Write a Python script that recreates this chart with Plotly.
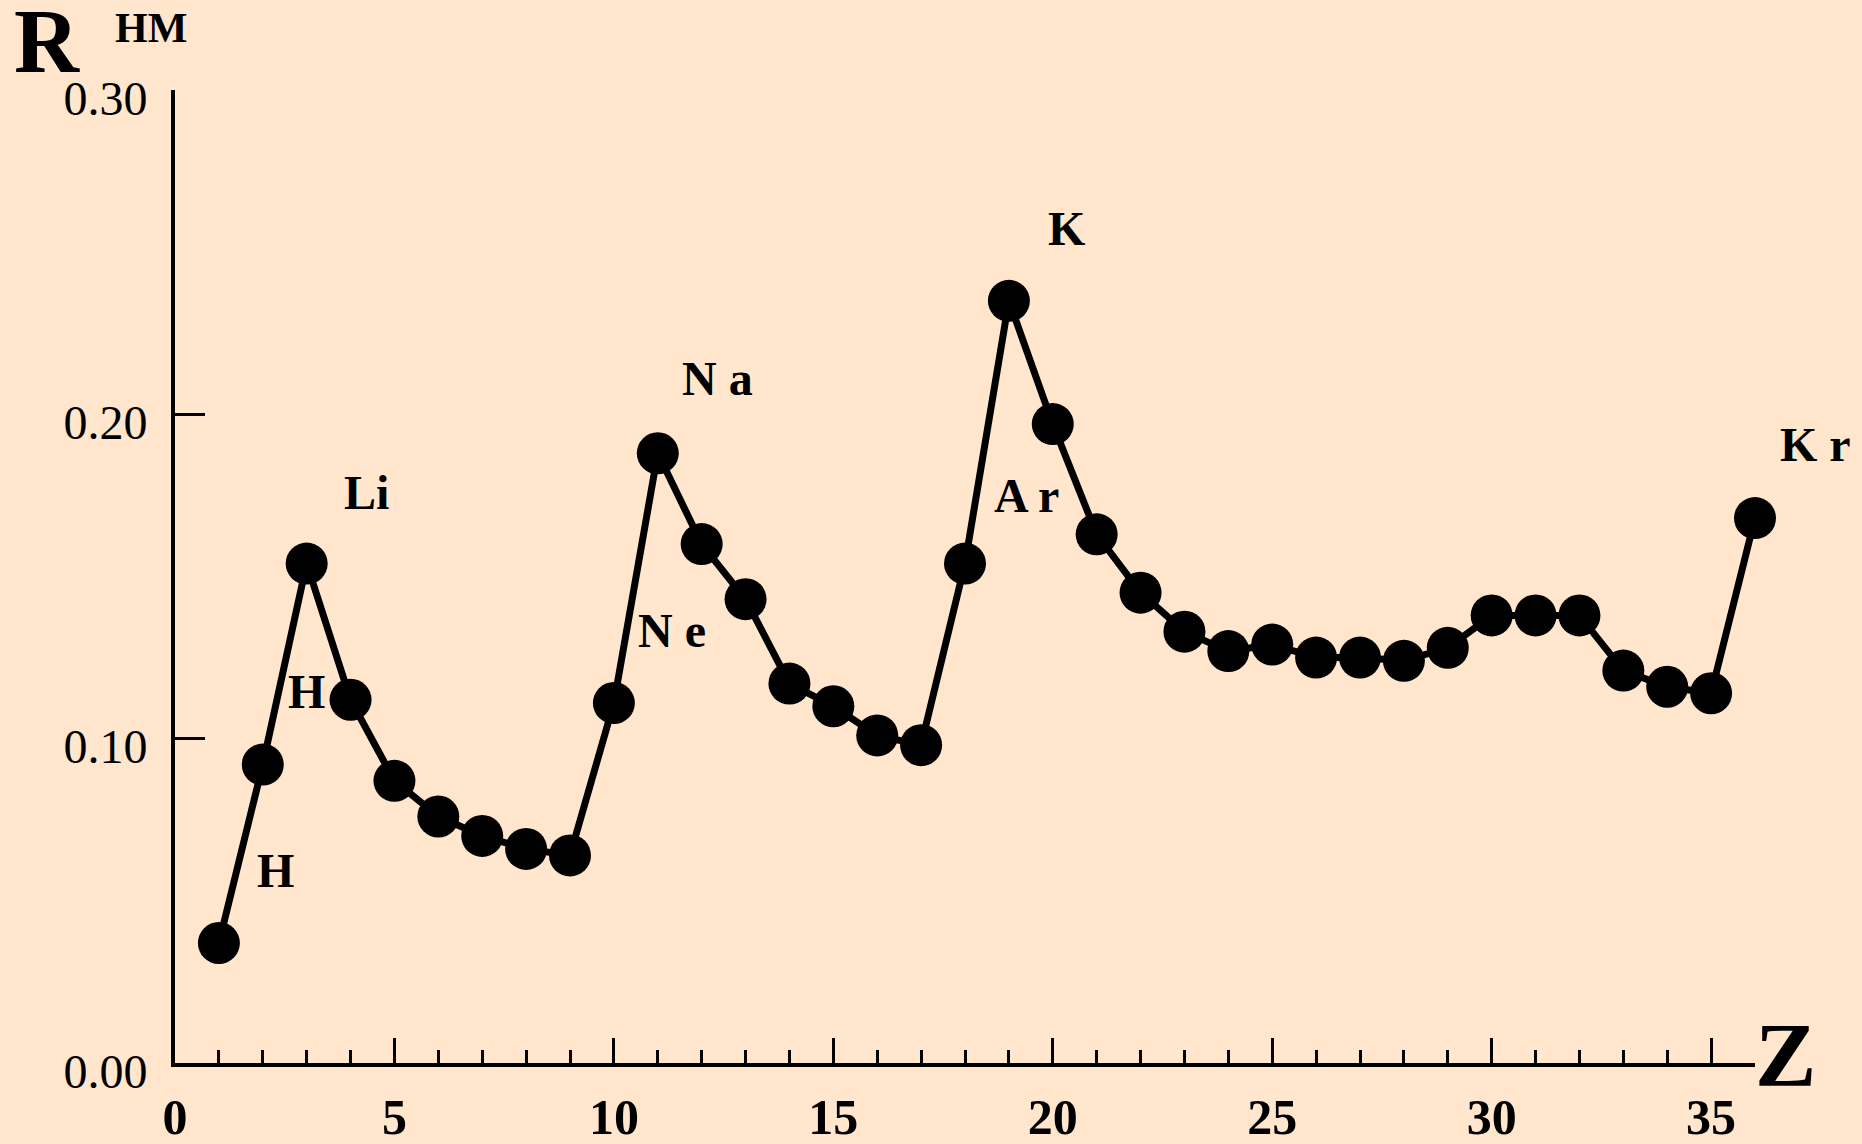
import plotly.graph_objects as go

# ---- data ----
Z = list(range(1, 37))
R_nm = [0.037, 0.092, 0.154, 0.112, 0.087, 0.076, 0.070, 0.066, 0.064, 0.111,
        0.188, 0.160, 0.143, 0.117, 0.110, 0.101, 0.098, 0.154, 0.235, 0.197,
        0.163, 0.145, 0.133, 0.127, 0.129, 0.125, 0.125, 0.124, 0.128, 0.138,
        0.138, 0.138, 0.121, 0.116, 0.114, 0.168]

x_tickvals = [0, 5, 10, 15, 20, 25, 30, 35]
x_ticktext = ["0", "5", "10", "15", "20", "25", "30", "35"]
y_tickvals = [0.0, 0.1, 0.2, 0.3]
y_ticktext = ["0.00", "0.10", "0.20", "0.30"]

elem_labels = ["H", "H", "Li", "N a", "N e", "A r", "K", "K r"]
elem_label_x = [2.29, 3.0, 4.37, 12.35, 11.33, 19.4, 20.31, 37.37]
elem_label_y = [0.0595, 0.1144, 0.176, 0.2112, 0.1332, 0.175, 0.2574, 0.1908]

X_RANGE = [0, 36]
Y_RANGE = [0, 0.30]

BG = "#FFE6CD"
SERIF = "Liberation Serif, Times New Roman, serif"

fig = go.Figure()
fig.add_trace(go.Scatter(
    x=Z, y=R_nm, mode="lines+markers",
    line=dict(color="black", width=7),
    marker=dict(color="black", size=42, symbol="circle"),
    cliponaxis=False, hoverinfo="x+y",
))

W, H = 1862, 1144
L, Rm, T, B = 175, 107, 90, 81
pw, ph = W - L - Rm, H - T - B


def px2paper(px, py):
    return (px - L) / pw, (H - B - py) / ph


anns = []
for txt, xv, yv in zip(elem_labels, elem_label_x, elem_label_y):
    # domain-relative placement (works also outside the axis range)
    xd = (xv - X_RANGE[0]) / (X_RANGE[1] - X_RANGE[0])
    yd = (yv - Y_RANGE[0]) / (Y_RANGE[1] - Y_RANGE[0])
    anns.append(dict(x=xd, y=yd, xref="x domain", yref="y domain", text=f"<b>{txt}</b>",
                     showarrow=False, xanchor="center", yanchor="middle",
                     font=dict(family=SERIF, size=48, color="black")))

for txt, (cx, cy), size in [("R", (47, 41), 90), ("НМ", (151, 28), 42), ("Z", (1785, 1055), 92)]:
    xp, yp = px2paper(cx, cy)
    anns.append(dict(x=xp, y=yp, xref="paper", yref="paper", text=f"<b>{txt}</b>",
                     showarrow=False, xanchor="center", yanchor="middle",
                     font=dict(family=SERIF, size=size, color="black")))

fig.update_layout(
    width=W, height=H,
    paper_bgcolor=BG, plot_bgcolor=BG,
    margin=dict(l=L, r=Rm, t=T, b=B, autoexpand=False),
    showlegend=False,
    annotations=anns,
    xaxis=dict(
        range=X_RANGE, showgrid=False, zeroline=False,
        showline=True, linecolor="black", linewidth=4,
        tickmode="array", tickvals=x_tickvals, ticktext=[f"<b>{t}</b>" for t in x_ticktext],
        ticks="inside", ticklen=25, tickwidth=3, tickcolor="black",
        tickfont=dict(family=SERIF, size=50, color="black"),
        ticklabelstandoff=7,
        minor=dict(dtick=1, tick0=0, ticks="inside", ticklen=13, tickwidth=3,
                   tickcolor="black", showgrid=False),
    ),
    yaxis=dict(
        range=Y_RANGE, showgrid=False, zeroline=False,
        showline=True, linecolor="black", linewidth=4,
        tickmode="array", tickvals=y_tickvals, ticktext=y_ticktext,
        ticks="inside", ticklen=30, tickwidth=3, tickcolor="black",
        tickfont=dict(family=SERIF, size=48, color="black"),
        ticklabelstandoff=14, ticklabelshift=8,
    ),
)

fig.write_html(
    "out.html",
    config={"displayModeBar": False},
    post_script="document.body.style.margin='0';document.body.style.overflow='hidden';"
                "document.documentElement.style.overflow='hidden';",
)
